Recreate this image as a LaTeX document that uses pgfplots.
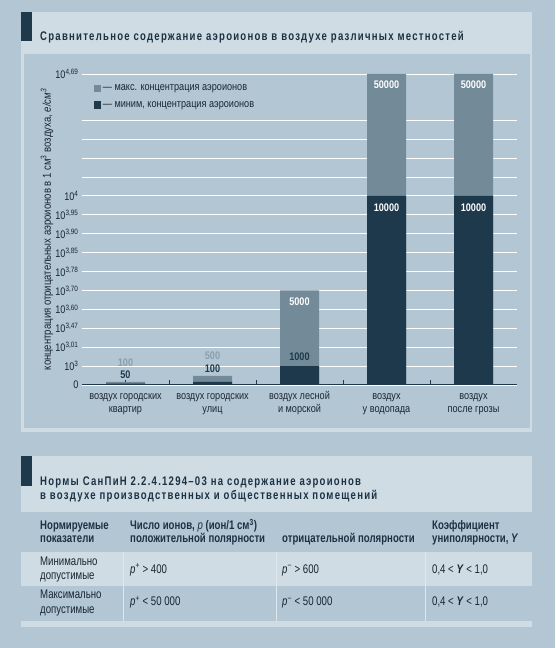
\documentclass[border=0pt]{standalone}
\usepackage{fontspec}
\setmainfont{Liberation Sans}[FakeStretch=0.83]
\newfontfamily\tabfont{Liberation Sans}[FakeStretch=0.77]
\newfontfamily\titfont{Liberation Sans}[FakeStretch=0.765, LetterSpace=10]
\usepackage{pgfplots}
\usepackage{pgfplotstable}
\pgfplotsset{compat=1.18}
\definecolor{bg}{RGB}{179,198,212}
\definecolor{band}{RGB}{207,220,228}
\definecolor{barmax}{RGB}{115,138,152}
\definecolor{barmin}{RGB}{29,57,75}
\definecolor{navy}{RGB}{28,50,68}
\definecolor{lightlab}{RGB}{139,158,172}
\definecolor{txt}{RGB}{25,38,50}
\definecolor{sepc}{RGB}{222,231,237}
\newcommand\tp[1]{10\textsuperscript{#1}}

% bar heights in the chart's own (index) scale; values for labels
\pgfplotstableread{
x maxv minv maxh minh
0 100 50 0.16 0.07
1 500 100 0.48 0.16
2 5000 1000 5 1
3 50000 10000 16.45 10
4 50000 10000 16.45 10
}\bars
\pgfplotstableread{
x y t
0 1.18 100
1 1.53 500
}\lablight
\pgfplotstableread{
x y t
0 0.53 50
1 0.86 100
2 1.48 1000
}\labdark
\pgfplotstableread{
x y t
2 4.39 5000
3 15.87 50000
4 15.87 50000
3 9.37 10000
4 9.37 10000
}\labwhite

\begin{document}
\begin{tikzpicture}[x=1pt,y=1pt]
\path[use as bounding box] (0,0) rectangle (555,648);
\fill[bg] (0,0) rectangle (555,648);
% top panel
\fill[band] (21,216) rectangle (532,636);
\fill[bg] (24,220) rectangle (530,594);
\fill[barmin] (21,607) rectangle (32,636);
\node[anchor=base west, inner sep=0, text=navy, font=\titfont\bfseries\fontsize{12.5}{14}\selectfont] at (40,607.3) {Сравнительное содержание аэроионов в воздухе различных местностей};

\begin{axis}[
  at={(82pt,263pt)}, anchor=south west, scale only axis,
  width=435pt, height=311pt,
  xmin=-0.5, xmax=4.5, ymin=0, ymax=16.45,
  axis x line*=bottom, axis y line*=left,
  x axis line style={-, draw=barmin, line width=1pt},
  y axis line style={draw=none},
  xtick={0.5,1.5,2.5,3.5}, xticklabels={},
  x tick style={draw=barmin, line width=0.8pt}, major tick length=5pt,
  extra x ticks={0,1,2,3,4},
  extra x tick labels={{\strut воздух городских\\квартир},{\strut воздух городских\\улиц},{\strut воздух лесной\\и морской},{\strut воздух\\у водопада},{\strut воздух\\после грозы}},
  extra x tick style={tick style={draw=none}},
  xticklabel style={align=center, font=\fontsize{11}{12.5}\selectfont, text=txt, yshift=-2.5pt},
  ytick={0,1,2,3,4,5,6,7,8,9,10,11,12,13,14,16.45},
  yticklabels={0,{\tp{3}},{\tp{3,01}},{\tp{3,47}},{\tp{3,60}},{\tp{3,70}},{\tp{3,78}},{\tp{3,85}},{\tp{3,90}},{\tp{3,95}},{\tp{4}},{},{},{},{},{\tp{4,69}}},
  ytick style={draw=none},
  yticklabel style={font=\fontsize{11}{12}\selectfont, text=txt},
  ymajorgrids, grid style={white, line width=0.9pt},
  ylabel={концентрация отрицательных аэроионов в 1 см\textsuperscript{3} воздуха, \textit{e/см\textsuperscript{3}}},
  every axis y label/.style={at={(axis description cs:-0.0805,0.5)}, rotate=90, anchor=center, font=\fontsize{11.5}{12}\selectfont, text=txt},
  legend style={at={(axis description cs:0.026,0.972)}, anchor=north west, draw=none, fill=none, font=\fontsize{11}{12}\selectfont, text=txt, row sep=5pt, inner sep=0pt},
  legend cell align=left,
]
\addplot[ybar, bar width=39pt, bar shift=0pt, fill=barmax, draw=none,
  legend image code/.code={\fill[barmax] (0pt,-3.7pt) rectangle (7.4pt,3.7pt);}]
  table[x=x, y=maxh] {\bars};
\addlegendentry{— макс. концентрация аэроионов}
\addplot[ybar, bar width=39pt, bar shift=0pt, fill=barmin, draw=none,
  legend image code/.code={\fill[barmin] (0pt,-3.7pt) rectangle (7.4pt,3.7pt);}]
  table[x=x, y=minh] {\bars};
\addlegendentry{— миним, концентрация аэроионов}
\addplot[draw=none, mark=none, forget plot, nodes near coords, point meta=explicit symbolic,
  every node near coord/.append style={anchor=center, font=\bfseries\fontsize{11}{12}\selectfont, text=lightlab}]
  table[x=x, y=y, meta=t] {\lablight};
\addplot[draw=none, mark=none, forget plot, nodes near coords, point meta=explicit symbolic,
  every node near coord/.append style={anchor=center, font=\bfseries\fontsize{11}{12}\selectfont, text=barmin}]
  table[x=x, y=y, meta=t] {\labdark};
\addplot[draw=none, mark=none, forget plot, nodes near coords, point meta=explicit symbolic,
  every node near coord/.append style={anchor=center, font=\bfseries\fontsize{11}{12}\selectfont, text=white}]
  table[x=x, y=y, meta=t] {\labwhite};
\end{axis}

% bottom panel
\fill[band] (21,136) rectangle (532,192);
\fill[barmin] (21,162) rectangle (32,192);
\fill[band] (21,62) rectangle (532,96);
\fill[band] (21,21) rectangle (532,27);
\foreach \xx in {123.3,276.7,425.7} \draw[sepc, line width=0.8pt] (\xx,27) -- (\xx,96);
\begin{scope}[every node/.style={anchor=base west, inner sep=0}]
\node[text=navy, font=\titfont\bfseries\fontsize{12.5}{14}\selectfont] at (40,162.7) {Нормы СанПиН 2.2.4.1294–03 на содержание аэроионов};
\node[text=navy, font=\titfont\bfseries\fontsize{12.5}{14}\selectfont] at (40,148) {в воздухе производственных и общественных помещений};
\begin{scope}[every node/.append style={text=navy, font=\tabfont\bfseries\fontsize{12.5}{14}\selectfont}]
\node at (40,118) {Нормируемые};
\node at (40,105) {показатели};
\node at (130,118) {Число ионов, \textit{\mdseries p} (ион/1 см\textsuperscript{3})};
\node at (130,105) {положительной полярности};
\node at (282,105) {отрицательной полярности};
\node at (432,118) {Коэффициент};
\node at (432,105) {униполярности, \textit{Y}};
\end{scope}
\begin{scope}[every node/.append style={text=txt, font=\tabfont\fontsize{12.5}{14}\selectfont}]
\node at (40,82.5) {Минимально};
\node at (40,68) {допустимые};
\node at (130,74.7) {\textit{p}\textsuperscript{+} > 400};
\node at (282,74.7) {\textit{p}\textsuperscript{−} > 600};
\node at (432,74.7) {0,4 < \textit{\bfseries Y} < 1,0};
\node at (40,49) {Максимально};
\node at (40,34.5) {допустимые};
\node at (130,42) {\textit{p}\textsuperscript{+} < 50 000};
\node at (282,42) {\textit{p}\textsuperscript{−} < 50 000};
\node at (432,42) {0,4 < \textit{\bfseries Y} < 1,0};
\end{scope}
\end{scope}
\end{tikzpicture}
\end{document}
